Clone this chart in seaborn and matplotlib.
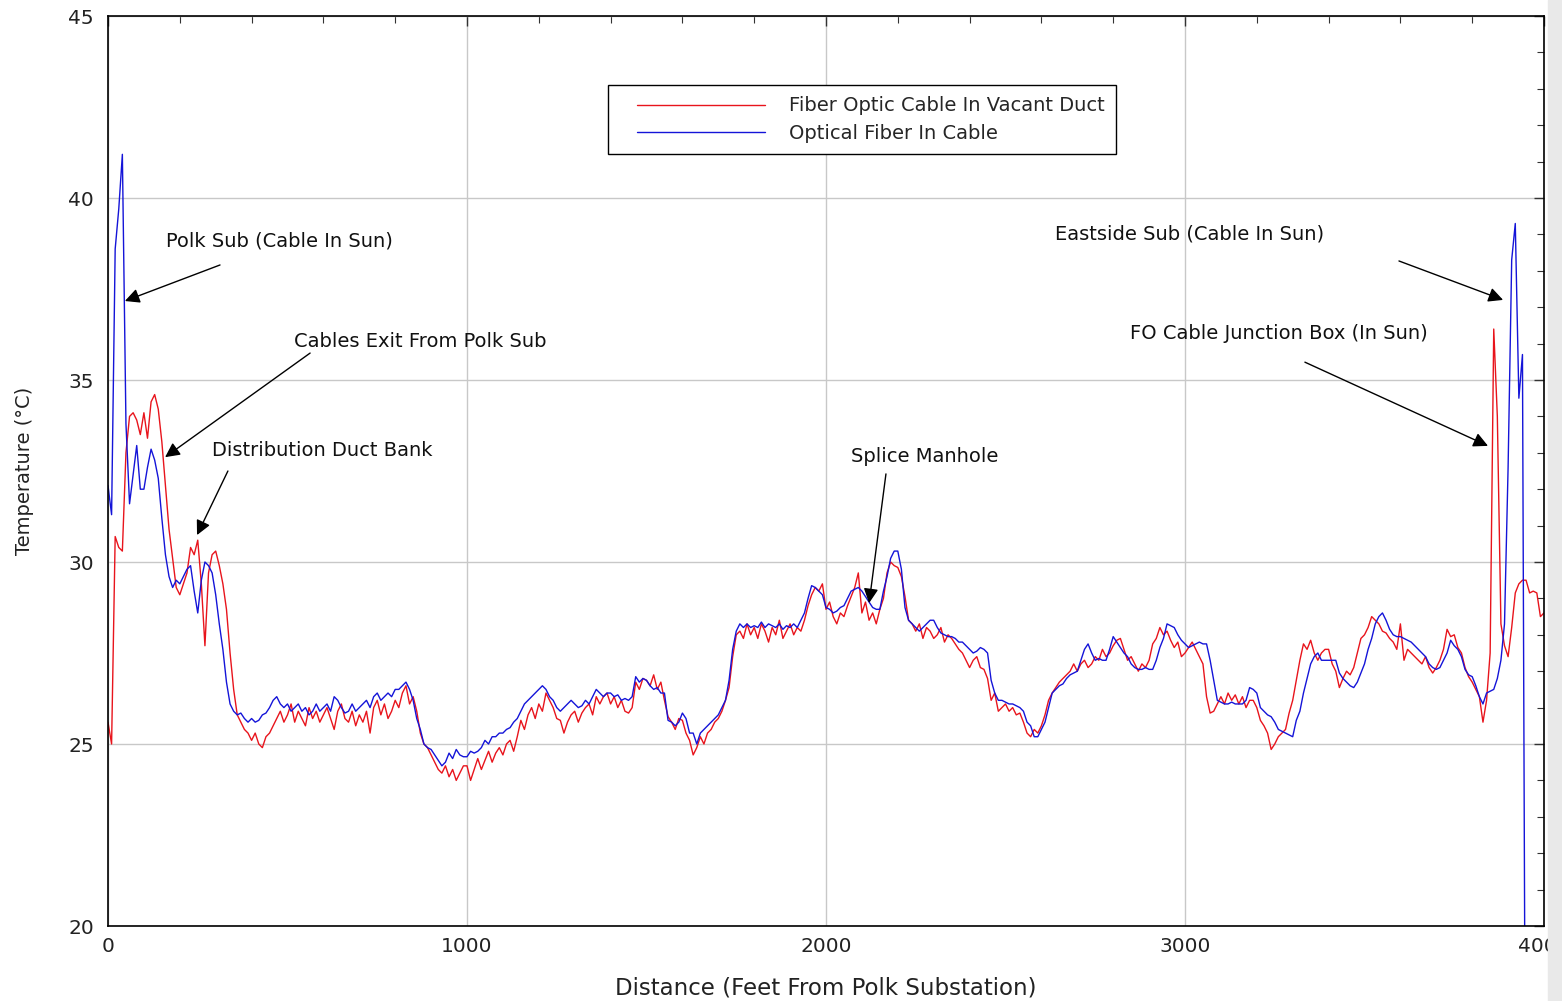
import numpy as np
import pandas as pd
import matplotlib
matplotlib.use("Agg")
import matplotlib.pyplot as plt
from matplotlib.lines import Line2D
from matplotlib.legend_handler import HandlerLine2D
from matplotlib.patches import Rectangle
from matplotlib.ticker import MultipleLocator
import seaborn as sns

# Distributed temperature sensing trace, one reading every 10 ft
step_ft = 10

series_names = ["Fiber Optic Cable In Vacant Duct", "Optical Fiber In Cable"]
series_colors = ["#e8141c", "#1414d8"]

vacant_duct_temp = [
    25.6, 25.0, 30.7, 30.4, 30.3, 33.0, 34.0, 34.1, 33.9, 33.5,
    34.1, 33.4, 34.4, 34.6, 34.2, 33.3, 32.1, 30.9, 30.1, 29.3,
    29.1, 29.4, 29.7, 30.4, 30.2, 30.6, 29.4, 27.7, 29.7, 30.2,
    30.3, 29.9, 29.4, 28.7, 27.5, 26.5, 25.8, 25.6, 25.4, 25.3,
    25.1, 25.3, 25.0, 24.9, 25.2, 25.3, 25.5, 25.7, 25.9, 25.6,
    25.8, 26.1, 25.6, 25.9, 25.7, 25.5, 26.0, 25.7, 25.9, 25.6,
    25.8, 26.0, 25.7, 25.4, 25.9, 26.1, 25.7, 25.6, 25.9, 25.5,
    25.8, 25.6, 25.9, 25.3, 26.0, 26.2, 25.8, 26.1, 25.7, 25.9,
    26.2, 26.0, 26.4, 26.6, 26.1, 26.3, 25.9, 25.3, 25.0, 24.9,
    24.7, 24.5, 24.3, 24.2, 24.4, 24.1, 24.3, 24.0, 24.2, 24.4,
    24.4, 24.0, 24.3, 24.6, 24.3, 24.55, 24.8, 24.5, 24.75, 24.9,
    24.7, 25.0, 25.1, 24.8, 25.2, 25.65, 25.4, 25.8, 26.0, 25.7,
    26.1, 25.9, 26.4, 26.2, 26.0, 25.7, 25.65, 25.3, 25.6, 25.8,
    25.9, 25.6, 25.85, 26.0, 26.1, 25.8, 26.3, 26.1, 26.3, 26.4,
    26.1, 26.3, 26.0, 26.2, 25.9, 25.85, 26.0, 26.7, 26.5, 26.8,
    26.75, 26.6, 26.9, 26.5, 26.7, 26.2, 25.75, 25.6, 25.4, 25.7,
    25.65, 25.3, 25.1, 24.7, 24.9, 25.2, 25.0, 25.3, 25.4, 25.6,
    25.7, 25.9, 26.2, 26.55, 27.4, 28.0, 28.1, 27.9, 28.3, 28.0,
    28.2, 27.9, 28.3, 28.1, 27.8, 28.2, 28.0, 28.4, 27.9, 28.1,
    28.3, 28.0, 28.2, 28.1, 28.4, 28.8, 29.1, 29.3, 29.2, 29.4,
    28.7, 28.9, 28.5, 28.3, 28.6, 28.5, 28.8, 29.05, 29.3, 29.7,
    28.6, 28.9, 28.4, 28.6, 28.3, 28.7, 29.0, 29.7, 30.0, 29.9,
    29.85, 29.6, 29.05, 28.4, 28.3, 28.1, 28.3, 27.9, 28.2, 28.1,
    27.9, 28.0, 28.2, 27.8, 28.0, 27.9, 27.75, 27.6, 27.5, 27.3,
    27.1, 27.3, 27.4, 27.1, 27.05, 26.8, 26.2, 26.4, 25.9, 26.0,
    26.1, 25.9, 26.0, 25.8, 25.85, 25.6, 25.3, 25.2, 25.4, 25.3,
    25.5, 25.8, 26.2, 26.4, 26.55, 26.7, 26.8, 26.9, 27.0, 27.2,
    27.0, 27.2, 27.3, 27.1, 27.2, 27.4, 27.3, 27.6, 27.4, 27.5,
    27.7, 27.85, 27.9, 27.6, 27.3, 27.4, 27.2, 27.0, 27.2, 27.1,
    27.3, 27.75, 27.9, 28.2, 28.0, 28.1, 27.85, 27.65, 27.8, 27.4,
    27.5, 27.65, 27.8, 27.6, 27.4, 27.2, 26.3, 25.85, 25.9, 26.1,
    26.3, 26.1, 26.4, 26.2, 26.35, 26.1, 26.3, 26.0, 26.2, 26.2,
    26.0, 25.65, 25.5, 25.3, 24.85, 25.0, 25.2, 25.3, 25.4, 25.85,
    26.2, 26.75, 27.3, 27.75, 27.6, 27.85, 27.5, 27.3, 27.5, 27.6,
    27.6, 27.2, 27.0, 26.55, 26.8, 27.0, 26.9, 27.1, 27.5, 27.9,
    28.0, 28.2, 28.5, 28.4, 28.3, 28.1, 28.05, 27.9, 27.8, 27.6,
    28.3, 27.3, 27.6, 27.5, 27.4, 27.3, 27.2, 27.4, 27.1, 26.95,
    27.1, 27.3, 27.6, 28.15, 27.95, 28.0, 27.65, 27.5, 27.1, 26.85,
    26.7, 26.5, 26.3, 25.6, 26.2, 27.5, 36.4, 34.0, 28.3, 27.7,
    27.4, 28.2, 29.15, 29.4, 29.5, 29.5, 29.15, 29.2, 29.15, 28.5,
    28.6,
]

in_cable_temp = [
    32.1, 31.3, 38.6, 39.7, 41.2, 33.8, 31.6, 32.4, 33.2, 32.0,
    32.0, 32.6, 33.1, 32.8, 32.3, 31.2, 30.2, 29.6, 29.3, 29.5,
    29.4, 29.6, 29.8, 29.9, 29.2, 28.6, 29.5, 30.0, 29.9, 29.7,
    29.1, 28.3, 27.6, 26.7, 26.1, 25.9, 25.8, 25.85, 25.7, 25.6,
    25.7, 25.6, 25.65, 25.8, 25.85, 26.0, 26.2, 26.3, 26.1, 26.0,
    26.1, 25.9, 26.0, 26.1, 25.9, 26.0, 25.8, 25.9, 26.1, 25.9,
    26.0, 26.1, 25.9, 26.3, 26.2, 26.0, 25.85, 25.9, 26.1, 25.9,
    26.0, 26.1, 26.2, 26.0, 26.3, 26.4, 26.2, 26.3, 26.4, 26.3,
    26.5, 26.5, 26.6, 26.7, 26.5, 26.2, 25.7, 25.4, 25.0, 24.9,
    24.85, 24.7, 24.55, 24.4, 24.5, 24.75, 24.6, 24.85, 24.7, 24.65,
    24.65, 24.8, 24.75, 24.8, 24.9, 25.1, 25.0, 25.2, 25.2, 25.3,
    25.3, 25.4, 25.45, 25.6, 25.7, 25.9, 26.1, 26.2, 26.3, 26.4,
    26.5, 26.6, 26.5, 26.3, 26.2, 26.0, 25.9, 26.0, 26.1, 26.2,
    26.1, 26.0, 26.05, 26.2, 26.1, 26.3, 26.5, 26.4, 26.3, 26.4,
    26.4, 26.3, 26.35, 26.2, 26.25, 26.2, 26.3, 26.85, 26.7, 26.8,
    26.75, 26.6, 26.5, 26.55, 26.4, 26.4, 25.65, 25.6, 25.5, 25.6,
    25.85, 25.7, 25.3, 25.3, 25.0, 25.3, 25.4, 25.5, 25.6, 25.7,
    25.8, 26.0, 26.2, 26.75, 27.6, 28.1, 28.3, 28.2, 28.3, 28.2,
    28.25, 28.2, 28.35, 28.2, 28.3, 28.25, 28.2, 28.3, 28.15, 28.25,
    28.2, 28.3, 28.2, 28.4, 28.6, 29.0, 29.35, 29.3, 29.2, 29.1,
    28.75, 28.7, 28.6, 28.65, 28.75, 28.8, 29.0, 29.2, 29.25, 29.3,
    29.2, 29.05, 28.9, 28.75, 28.7, 28.7, 29.2, 29.6, 30.1, 30.3,
    30.3, 29.8, 28.75, 28.4, 28.3, 28.2, 28.1, 28.2, 28.3, 28.4,
    28.4, 28.2, 28.05, 28.0, 27.95, 27.95, 27.9, 27.8, 27.8, 27.7,
    27.6, 27.5, 27.55, 27.65, 27.6, 27.5, 26.75, 26.4, 26.2, 26.2,
    26.15, 26.1, 26.1, 26.05, 26.0, 25.9, 25.6, 25.5, 25.2, 25.2,
    25.4, 25.6, 26.0, 26.4, 26.5, 26.6, 26.65, 26.8, 26.9, 26.95,
    27.0, 27.3, 27.6, 27.75, 27.5, 27.3, 27.35, 27.3, 27.3, 27.6,
    27.95, 27.8, 27.65, 27.5, 27.4, 27.2, 27.1, 27.05, 27.05, 27.1,
    27.05, 27.05, 27.3, 27.65, 27.9, 28.3, 28.25, 28.2, 28.0, 27.85,
    27.75, 27.65, 27.7, 27.75, 27.8, 27.75, 27.75, 27.3, 26.75, 26.2,
    26.15, 26.1, 26.1, 26.15, 26.1, 26.1, 26.1, 26.2, 26.55, 26.5,
    26.4, 26.0, 25.9, 25.8, 25.75, 25.6, 25.4, 25.35, 25.3, 25.25,
    25.2, 25.65, 25.9, 26.4, 26.8, 27.2, 27.4, 27.5, 27.3, 27.3,
    27.3, 27.3, 27.3, 26.95, 26.8, 26.7, 26.6, 26.55, 26.7, 26.95,
    27.2, 27.6, 27.9, 28.3, 28.5, 28.6, 28.4, 28.15, 28.0, 27.95,
    27.95, 27.9, 27.85, 27.8, 27.7, 27.6, 27.5, 27.4, 27.2, 27.1,
    27.05, 27.1, 27.3, 27.5, 27.85, 27.7, 27.6, 27.4, 27.05, 26.9,
    26.85, 26.6, 26.3, 26.1, 26.4, 26.45, 26.5, 26.8, 27.3, 28.3,
    32.6, 38.3, 39.3, 34.5, 35.7, 10.0,
]

x_ticks = [0, 1000, 2000, 3000, 4000]
y_ticks = [20, 25, 30, 35, 40, 45]

# (label, text anchor, arrow tail, arrow head) in data units
callouts = [
    ("Polk Sub (Cable In Sun)", (162, 38.82), (312, 38.16), (47, 37.17)),
    ("Cables Exit From Polk Sub", (518, 36.07), (563, 35.74), (159, 32.88)),
    ("Distribution Duct Bank", (290, 33.05), (334, 32.50), (248, 30.74)),
    ("Splice Manhole", (2070, 32.91), (2167, 32.42), (2120, 28.87)),
    ("Eastside Sub (Cable In Sun)", (2638, 39.01), (3596, 38.27), (3886, 37.20)),
    ("FO Cable Junction Box (In Sun)", (2847, 36.29), (3334, 35.49), (3844, 33.19)),
]

frames = []
for name, temps in zip(series_names, [vacant_duct_temp, in_cable_temp]):
    frames.append(pd.DataFrame({
        "Distance": np.arange(len(temps)) * step_ft,
        "Temperature": temps,
        "Series": name,
    }))
df = pd.concat(frames, ignore_index=True)

sns.set_theme(style="white")
plt.rcParams["font.family"] = ["DejaVu Sans"]

fig = plt.figure(figsize=(15.62, 10.01), dpi=100)
ax = fig.add_axes([108 / 1562, 75 / 1001, 1436 / 1562, 910 / 1001])

sns.lineplot(
    data=df, x="Distance", y="Temperature", hue="Series",
    hue_order=series_names, palette=dict(zip(series_names, series_colors)),
    estimator=None, sort=False, linewidth=1.0, legend=False, ax=ax,
)

ax.set_xlim(0, 4000)
ax.set_ylim(20, 45)
ax.set_xticks(x_ticks)
ax.set_yticks(y_ticks)
ax.xaxis.set_minor_locator(MultipleLocator(200))
ax.yaxis.set_minor_locator(MultipleLocator(1))
ax.grid(True, which="major", color="#c8c8c8", linewidth=1.0)
ax.grid(False, which="minor")
ax.set_axisbelow(True)

ax.tick_params(which="both", direction="in", top=True, right=True,
               colors="#333333", labelcolor="#222222")
ax.tick_params(which="major", length=7, width=1.0, labelsize=14.5)
ax.tick_params(axis="y", which="major", pad=10)
ax.tick_params(axis="x", which="major", pad=8)
ax.tick_params(which="minor", length=5, width=0.8)

for spine in ax.spines.values():
    spine.set_color("black")
    spine.set_linewidth(1.2)
    spine.set_visible(True)

ax.set_xlabel("Distance (Feet From Polk Substation)", fontsize=16.5,
              labelpad=15, color="#222222")
ax.set_ylabel("Temperature (°C)", fontsize=14, labelpad=25, color="#222222")

for label, text_xy, tail, head in callouts:
    ax.text(text_xy[0], text_xy[1], label, fontsize=14, ha="left",
            va="center", color="#111111")
    ax.annotate("", xy=head, xytext=tail,
                arrowprops=dict(arrowstyle="-|>", color="black", lw=1.0,
                                mutation_scale=22, shrinkA=0, shrinkB=0))

handles = [Line2D([], [], color=c, lw=1.0) for c in series_colors]
leg = ax.legend(
    handles, series_names, loc="upper left", bbox_to_anchor=(0.348, 0.924),
    borderaxespad=0, fontsize=14, frameon=True, fancybox=False,
    edgecolor="black", framealpha=1, borderpad=0.58, handlelength=7.5,
    handletextpad=1.24, labelspacing=0.42,
    handler_map={Line2D: HandlerLine2D(xpad=0.95)},
)
leg.get_frame().set_linewidth(1.0)

# light strip along the right border of the canvas
fig.add_artist(Rectangle((1548 / 1562, 0), 14 / 1562, 1,
                         transform=fig.transFigure, color="#e9e9e9",
                         zorder=10))

fig.savefig("out.png", dpi=100)
